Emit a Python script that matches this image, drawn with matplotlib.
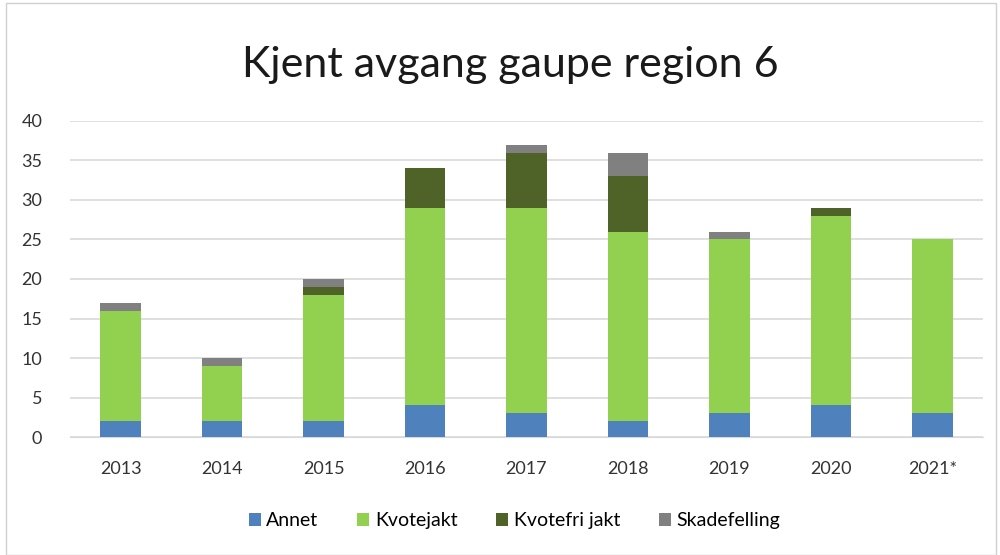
import numpy as np
import matplotlib
matplotlib.use("Agg")
import matplotlib.pyplot as plt
from matplotlib.patches import Rectangle

plt.rcParams['font.family'] = ['Lato', 'DejaVu Sans']

years = ['2013', '2014', '2015', '2016', '2017', '2018', '2019', '2020', '2021*']
annet = [2, 2, 2, 4, 3, 2, 3, 4, 3]
kvotejakt = [14, 7, 16, 25, 26, 24, 22, 24, 22]
kvotefri = [0, 0, 1, 5, 7, 7, 0, 1, 0]
skade = [1, 1, 1, 0, 1, 3, 1, 0, 0]

series = [('Annet', annet, '#4F81BD'),
          ('Kvotejakt', kvotejakt, '#92D050'),
          ('Kvotefri jakt', kvotefri, '#4F6228'),
          ('Skadefelling', skade, '#808080')]

fig = plt.figure(figsize=(10, 5.55), dpi=100)
ax = fig.add_axes([0.07, 0.2126, 0.913, 0.5694])

x = np.arange(len(years))
bottom = np.zeros(len(years))
for name, vals, col in series:
    ax.bar(x, vals, width=0.4, bottom=bottom, color=col, label=name, zorder=3)
    bottom += np.array(vals)

ax.set_ylim(0, 40)
ax.set_xlim(-0.5, len(years) - 0.5)
ax.set_yticks(range(0, 41, 5))
ax.set_xticks(x)
ax.set_xticklabels(years)
ax.yaxis.grid(True, color='#D9D9D9', linewidth=1.2, zorder=0)
for s in ax.spines.values():
    s.set_visible(False)
ax.spines['bottom'].set_visible(True)
ax.spines['bottom'].set_color('#D9D9D9')
ax.tick_params(axis='both', length=0, labelsize=13, colors='#333333')
ax.tick_params(axis='y', pad=20)
ax.tick_params(axis='x', pad=17)

fig.text(0.51, 0.882, 'Kjent avgang gaupe region 6', ha='center', va='center',
         fontsize=31, color='#1a1a1a')

ax.legend(loc='center', bbox_to_anchor=(0.487, -0.265), ncol=4, frameon=False,
          fontsize=14, handlelength=0.6, handleheight=0.6, handletextpad=0.3,
          columnspacing=2.0)

fig.patches.append(Rectangle((0.006, 0.0), 0.99, 0.995, transform=fig.transFigure,
                             fill=False, edgecolor='#D0D0D0', linewidth=1))

fig.savefig('out.png', dpi=100)
